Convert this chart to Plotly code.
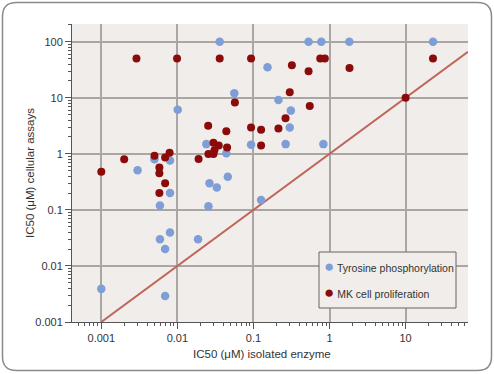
import plotly.graph_objects as go

# Tyrosine phosphorylation (blue)
tyr_x = [0.036, 0.53, 0.78, 1.82, 22.9, 0.153, 0.056, 0.213, 0.0101, 0.31,
         0.30, 0.024, 0.093, 0.265, 0.83, 0.044, 0.005, 0.008, 0.003, 0.046,
         0.0264, 0.033, 0.008, 0.0059, 0.0256, 0.126, 0.008, 0.0059, 0.0187,
         0.0069, 0.001, 0.0069]
tyr_y = [100, 100, 100, 100, 100, 35, 12, 9.1, 6.1, 5.9,
         2.96, 1.49, 1.45, 1.49, 1.49, 1.02, 0.80, 0.76, 0.51, 0.39,
         0.30, 0.25, 0.20, 0.12, 0.116, 0.15, 0.0395, 0.030, 0.030,
         0.020, 0.0039, 0.0029]

# MK cell proliferation (dark red)
mk_x = [0.001, 0.0029, 0.0099, 0.036, 0.093, 0.755, 0.867, 22.9, 0.32, 1.83,
        0.53, 0.30, 0.057, 0.55, 0.264, 0.0254, 0.093, 0.213, 0.126, 0.044,
        0.0298, 0.035, 0.045, 0.126, 0.0307, 0.0256, 0.0298, 0.019, 0.002,
        0.005, 0.0069, 0.0079, 0.0058, 0.0058, 0.0069, 0.0058, 10]
mk_y = [0.48, 50, 50, 50, 50, 50, 50, 50, 38, 34,
        29.6, 12.5, 8.2, 7.1, 4.3, 3.16, 2.96, 2.84, 2.68, 2.54,
        1.57, 1.41, 1.30, 1.41, 1.16, 0.99, 0.99, 0.81, 0.80,
        0.92, 0.86, 1.04, 0.57, 0.45, 0.30, 0.20, 10]

# identity line (y = x)
line_x = [0.001, 66]
line_y = [0.001, 66]

x_tickvals = [0.001, 0.01, 0.1, 1, 10]
x_ticktext = ["0.001", "0.01", "0.1", "1", "10"]
y_tickvals = [0.001, 0.01, 0.1, 1, 10, 100]
y_ticktext = ["0.001", "0.01", "0.1", "1", "10", "100"]

series_names = ["Tyrosine phosphorylation", "MK cell proliferation"]
BLUE, RED = "#7f9ed8", "#8b0a0a"

FONT = "Liberation Sans, Arial, sans-serif"
TXT = "#333333"
W, H = 494, 374
L, R, T, B = 72, 26, 24, 52
PW, PH = W - L - R, H - T - B

fig = go.Figure()
fig.add_trace(go.Scatter(x=line_x, y=line_y, mode="lines",
                         line=dict(color="#c0655a", width=2),
                         showlegend=False, hoverinfo="skip"))
fig.add_trace(go.Scatter(x=tyr_x, y=tyr_y, mode="markers", name=series_names[0],
                         showlegend=False,
                         marker=dict(color=BLUE, size=8.5, line=dict(width=0))))
fig.add_trace(go.Scatter(x=mk_x, y=mk_y, mode="markers", name=series_names[1],
                         showlegend=False,
                         marker=dict(color=RED, size=8, line=dict(width=0))))

def px2paper(px, py):
    return (px - L) / PW, (H - B - py) / PH

def P(px, py):
    a, b = px2paper(px, py)
    return f"{a:.5f},{b:.5f}"

# rounded outer frame
x0p, y0p, x1p, y1p, r = 2.5, 2.5, 491.5, 370.5, 14
frame = (f"M {P(x0p + r, y0p)} L {P(x1p - r, y0p)} Q {P(x1p, y0p)} {P(x1p, y0p + r)} "
         f"L {P(x1p, y1p - r)} Q {P(x1p, y1p)} {P(x1p - r, y1p)} "
         f"L {P(x0p + r, y1p)} Q {P(x0p, y1p)} {P(x0p, y1p - r)} "
         f"L {P(x0p, y0p + r)} Q {P(x0p, y0p)} {P(x0p + r, y0p)} Z")

# legend box
lx0, ly0 = px2paper(319, 308)
lx1, ly1 = px2paper(456, 252)

axis_common = dict(type="log", showgrid=True, gridcolor="#a9a6a3", gridwidth=1.5,
                   showline=True, linecolor="#555555", linewidth=1,
                   ticks="outside", ticklen=6, tickcolor="#555555", tickwidth=1,
                   zeroline=False,
                   tickfont=dict(family=FONT, size=11, color=TXT),
                   minor=dict(ticks="outside", ticklen=3, tickcolor="#555555",
                              tickmode="linear", dtick="D1", showgrid=False))

def legend_entry(color, label, py):
    return dict(text=f"<span style='color:{color};font-size:17px'>●</span> {label}",
                xref="paper", yref="paper", x=px2paper(322, 0)[0], y=px2paper(0, py)[1],
                showarrow=False, xanchor="left", yanchor="middle",
                font=dict(family=FONT, size=10.5, color=TXT))

fig.update_layout(
    width=W, height=H,
    margin=dict(l=L, r=R, t=T, b=B),
    paper_bgcolor="white",
    plot_bgcolor="#f0edea",
    font=dict(family=FONT, size=11, color=TXT),
    showlegend=False,
    xaxis=dict(range=[-3.385, 1.82], tickmode="array", tickvals=x_tickvals,
               ticktext=x_ticktext, **axis_common),
    yaxis=dict(range=[-3, 2.316], tickmode="array", tickvals=y_tickvals,
               ticktext=y_ticktext, **axis_common),
    shapes=[
        dict(type="path", path=frame, xref="paper", yref="paper",
             line=dict(color="#8a8a8a", width=1.5), layer="below"),
        dict(type="rect", xref="paper", yref="paper", x0=lx0, y0=ly0, x1=lx1, y1=ly1,
             fillcolor="#f0edea", line=dict(color="#666666", width=1), layer="above"),
    ],
    annotations=[
        dict(text="IC50 (μM) isolated enzyme", xref="paper", yref="paper",
             x=px2paper(262, 0)[0], y=px2paper(0, 354)[1], showarrow=False,
             xanchor="center", yanchor="middle",
             font=dict(family=FONT, size=11.5, color=TXT)),
        dict(text="IC50 (μM) cellular assays", xref="paper", yref="paper",
             x=px2paper(30, 0)[0], y=px2paper(0, 173)[1], showarrow=False,
             textangle=-90, xanchor="center", yanchor="middle",
             font=dict(family=FONT, size=11.5, color=TXT)),
        legend_entry(BLUE, series_names[0], 266),
        legend_entry(RED, series_names[1], 292),
    ],
)

fig.write_html("out.html", config={"displayModeBar": False},
               post_script="document.body.style.margin='0';")
